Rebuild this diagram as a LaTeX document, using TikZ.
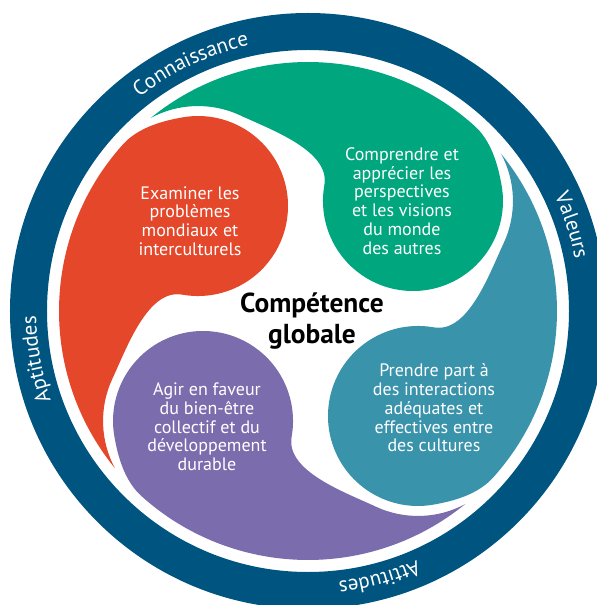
\documentclass[tikz,border=0pt]{standalone}
\usepackage{fontspec}
\setmainfont{PT Sans}
\usepackage{tikz}
\usetikzlibrary{decorations.text}

\definecolor{ringblue}{RGB}{0,84,128}
\definecolor{cred}{RGB}{228,71,42}
\definecolor{cgreen}{RGB}{0,166,126}
\definecolor{cteal}{RGB}{57,147,171}
\definecolor{cpurple}{RGB}{123,108,173}
\newcommand{\ringfont}{\color{white}\fontsize{15}{18}\selectfont}

\begin{document}
\begin{tikzpicture}[x=0.025cm, y=0.025cm]
		\tikzset{
			petaltext/.style={text=white, align=center, font=\fontsize{12.8}{13.3}\selectfont},
			centretext/.style={text=black, align=center, font=\bfseries\fontsize{19.5}{22}\selectfont},
			ringlabel/.style={decorate, decoration={text along path, text align=center,
			text={|\ringfont|#1}}},
			pics/petal/.style={code={
				\fill[#1] (129.2:249) arc[start angle=129.2, end angle=48, radius=249]
					.. controls (182.9,170.3) and (189.8,147.3) .. (193.6,125.6)
					arc[start angle=10, end angle=-190, radius=90]
					.. controls (22.5,160) and (-36,180.8) .. (-67.7,195.6)
					arc[start angle=65, end angle=118.3, radius=100] -- cycle;
			}},
		}
		\clip (-308,-294) rectangle (289,311);

		% outer ring
		\fill[ringblue, even odd rule] (0,0) circle[radius=298] (0,0) circle[radius=261];

		\path[ringlabel=Connaissance] (155.4:272) arc[start angle=155.4, end angle=75.4, radius=272];
		\path[ringlabel=Valeurs] (58:272) arc[start angle=58, end angle=-22, radius=272];
		\path[ringlabel=Attitudes] (-35:272) arc[start angle=-35, end angle=-115, radius=272];
		\path[ringlabel=Aptitudes] (230.1:272) arc[start angle=230.1, end angle=150.1, radius=272];

		% four petals
		\pic at (0,0) {petal=cgreen};
		\pic[rotate=90] at (0,0) {petal=cred};
		\pic[rotate=180] at (0,0) {petal=cpurple};
		\pic[rotate=-90] at (0,0) {petal=cteal};

		\node[petaltext](exam) at (-118,90){Examiner les\\problèmes\\mondiaux et\\interculturels};
		\node[petaltext](compr) at (94,110){Comprendre et\\apprécier les\\perspectives\\et les visions\\du monde\\des autres};
		\node[petaltext](prendre) at (126,-97){Prendre part à\\des interactions\\adéquates et\\effectives entre\\des cultures};
		\node[petaltext](agir) at (-101,-116){Agir en faveur\\du bien-être\\collectif et du\\développement\\durable};

		\node[centretext](comp) at (4,-10){Compétence\\globale};

	\end{tikzpicture}
\end{document}
